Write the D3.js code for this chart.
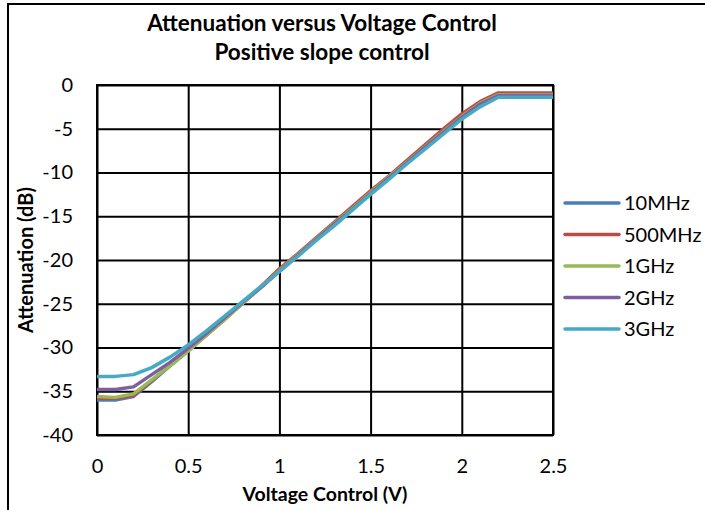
<!DOCTYPE html>
<html>
<head>
<meta charset="utf-8">
<script src="https://cdn.jsdelivr.net/npm/d3@7"></script>
<style>
  html, body { margin: 0; padding: 0; background: #fff; }
  svg { display: block; }
  text { font-family: Lato, "Open Sans", sans-serif; fill: #000; }
</style>
</head>
<body>
<svg id="chart" width="705" height="510"></svg>
<script>
const titleLines = ["Attenuation versus Voltage Control", "Positive slope control"];
const xTitle = "Voltage Control (V)";
const yTitle = "Attenuation (dB)";
const voltage = [0,0.1,0.2,0.3,0.4,0.5,0.6,0.7,0.8,0.9,1.0,1.1,1.2,1.3,1.4,1.5,1.6,1.7,1.8,1.9,2.0,2.1,2.2,2.3,2.4,2.5];
const seriesNames = ["10MHz", "500MHz", "1GHz", "2GHz", "3GHz"];
const seriesColors = ["#4A7EBB", "#BE4B48", "#98B954", "#7D60A0", "#46AAC5"];
const att10MHz  = [-36.0,-36.0,-35.6,-33.9,-32.1,-30.4,-28.6,-26.8,-24.9,-23.1,-21.1,-19.4,-17.6,-15.8,-14.0,-12.2,-10.5,-8.7,-6.9,-5.2,-3.5,-2.0,-1.0,-1.0,-1.0,-1.0];
const att500MHz = [-35.8,-35.8,-35.5,-33.8,-32.0,-30.3,-28.5,-26.7,-24.9,-23.0,-21.0,-19.3,-17.5,-15.7,-13.9,-12.1,-10.4,-8.6,-6.8,-5.0,-3.3,-1.9,-0.9,-0.9,-0.9,-0.9];
const att1GHz   = [-35.6,-35.7,-35.3,-33.7,-32.1,-30.4,-28.6,-26.8,-24.9,-23.1,-21.2,-19.4,-17.6,-15.8,-14.1,-12.3,-10.5,-8.8,-7.0,-5.3,-3.6,-2.1,-1.1,-1.1,-1.1,-1.1];
const att2GHz   = [-34.8,-34.8,-34.5,-33.1,-31.7,-30.1,-28.4,-26.6,-24.8,-23.1,-21.3,-19.5,-17.7,-15.9,-14.2,-12.4,-10.6,-8.9,-7.1,-5.4,-3.7,-2.2,-1.2,-1.2,-1.2,-1.2];
const att3GHz   = [-33.3,-33.3,-33.1,-32.3,-31.1,-29.7,-28.1,-26.4,-24.7,-23.0,-21.3,-19.6,-17.8,-16.1,-14.3,-12.5,-10.8,-9.0,-7.3,-5.6,-3.9,-2.5,-1.4,-1.4,-1.4,-1.4];
const seriesValues = [att10MHz, att500MHz, att1GHz, att2GHz, att3GHz];
const xTicks = [0, 0.5, 1, 1.5, 2, 2.5];
const yTicks = [0, -5, -10, -15, -20, -25, -30, -35, -40];

const svg = d3.select("#chart");
const plot = {left: 97, right: 553, top: 85, bottom: 435};
const x = d3.scaleLinear().domain([0, 2.5]).range([plot.left, plot.right]);
const y = d3.scaleLinear().domain([-40, 0]).range([plot.bottom, plot.top]);
const fmt = d => String(d);

// outer chart border (right and bottom sides cropped out of view)
svg.append("rect").attr("x", 8).attr("y", 4).attr("width", 720).attr("height", 530)
  .attr("fill", "none").attr("stroke", "#000").attr("stroke-width", 2);

// titles
svg.append("text").attr("x", 322).attr("y", 31).attr("text-anchor", "middle")
  .attr("font-size", 22.5).attr("font-weight", "bold").text(titleLines[0]);
svg.append("text").attr("x", 322).attr("y", 60).attr("text-anchor", "middle")
  .attr("font-size", 22.5).attr("font-weight", "bold").text(titleLines[1]);

// gridlines
const gx = svg.append("g").attr("transform", `translate(0,${plot.bottom})`)
  .call(d3.axisBottom(x).tickValues(xTicks).tickSize(-(plot.bottom - plot.top)).tickFormat(""));
gx.selectAll("line").attr("stroke", "#000").attr("stroke-width", 2);
gx.select(".domain").remove();
const gy = svg.append("g").attr("transform", `translate(${plot.left},0)`)
  .call(d3.axisLeft(y).tickValues(yTicks).tickSize(-(plot.right - plot.left)).tickFormat(""));
gy.selectAll("line").attr("stroke", "#000").attr("stroke-width", 2);
gy.select(".domain").remove();
svg.append("rect").attr("x", plot.left).attr("y", plot.top)
  .attr("width", plot.right - plot.left).attr("height", plot.bottom - plot.top)
  .attr("fill", "none").attr("stroke", "#000").attr("stroke-width", 2);

// tick labels via axes
const ax = svg.append("g").attr("transform", `translate(0,${plot.bottom})`)
  .call(d3.axisBottom(x).tickValues(xTicks).tickSize(0).tickPadding(38).tickFormat(fmt));
ax.select(".domain").remove();
ax.selectAll("text").attr("font-size", 20).attr("font-family", "Lato").attr("fill", "#000").attr("dy", "0");
const ay = svg.append("g").attr("transform", `translate(${plot.left},0)`)
  .call(d3.axisLeft(y).tickValues(yTicks).tickSize(0).tickPadding(24).tickFormat(fmt));
ay.select(".domain").remove();
ay.selectAll("text").attr("font-size", 20).attr("font-family", "Lato").attr("fill", "#000");

// axis titles
svg.append("text").attr("x", (plot.left + plot.right) / 2).attr("y", 501).attr("text-anchor", "middle")
  .attr("font-size", 19.5).attr("font-weight", "bold").text(xTitle);
svg.append("text").attr("transform", `translate(33,${(plot.top + plot.bottom) / 2}) rotate(-90)`)
  .attr("text-anchor", "middle").attr("font-size", 20).attr("font-weight", "bold").text(yTitle);

// series lines
const line = d3.line().x((d, i) => x(voltage[i])).y(d => y(d));
seriesValues.forEach((vals, k) => {
  svg.append("path").datum(vals).attr("d", line).attr("fill", "none")
    .attr("stroke", seriesColors[k]).attr("stroke-width", 3.5).attr("stroke-linejoin", "round");
});

// legend
seriesNames.forEach((name, k) => {
  const ly = 203 + k * 31.5;
  svg.append("line").attr("x1", 565).attr("x2", 619).attr("y1", ly).attr("y2", ly)
    .attr("stroke", seriesColors[k]).attr("stroke-width", 3.5).attr("stroke-linecap", "round");
  svg.append("text").attr("x", 624).attr("y", ly).attr("dy", "0.36em")
    .attr("font-size", 20).text(name);
});
</script>
</body>
</html>
